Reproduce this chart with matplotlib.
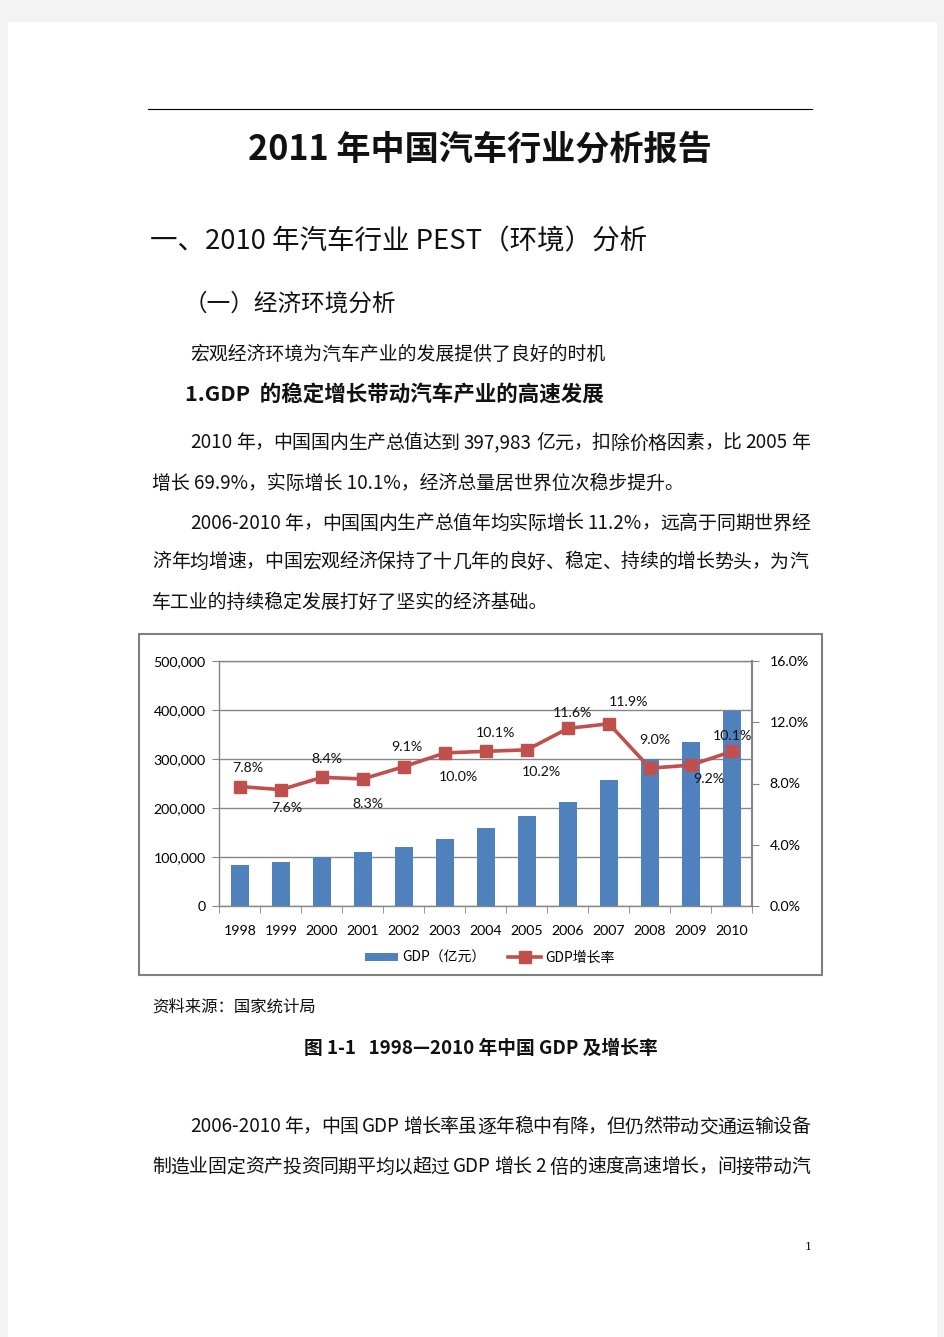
import numpy as np
import matplotlib
matplotlib.use('Agg')
import matplotlib.pyplot as plt
from matplotlib.patches import Rectangle, Patch
from matplotlib.lines import Line2D
from matplotlib.ticker import FuncFormatter
from matplotlib.textpath import TextToPath
from matplotlib.font_manager import FontProperties

plt.rcParams['font.family'] = ['Noto Sans CJK SC', 'DejaVu Sans']

# 图 1-1 数据
years = ['1998', '1999', '2000', '2001', '2002', '2003', '2004',
         '2005', '2006', '2007', '2008', '2009', '2010']
gdp = [84402, 89677, 99215, 109655, 120333, 135823, 159878,
       183217, 211924, 257306, 300670, 335353, 397983]   # 亿元
growth = [7.8, 7.6, 8.4, 8.3, 9.1, 10.0, 10.1, 10.2, 11.6, 11.9, 9.0, 9.2, 10.1]
# 数据标签的手工偏移 (像素, y 向上)
label_offsets = [(8, 19), (6, -18), (5, 18), (5, -25), (3, 20), (13, -24),
                 (9, 18), (14, -22), (4, 15), (20, 22), (5, 28), (18, -14),
                 (0, 15)]

W, H = 945, 1337
fig = plt.figure(figsize=(W / 100, H / 100), dpi=100)
fig.patch.set_facecolor('#f3f3f3')
fig.add_artist(Rectangle((8 / W, 0), (937 - 8) / W, 1 - 22 / H,
                         transform=fig.transFigure, facecolor='white',
                         edgecolor='none', zorder=0))


def fx(x):
    return x / W


def fy(y):
    # 文字 va=center 时整体偏高约 2px, 这里统一补回
    return 1 - (y + 2) / H


ttp = TextToPath()


def tw(s, prop):
    # 文字宽度(像素), 用两边竖线夹住以便把空格也算进去
    w1 = ttp.get_text_width_height_descent('|' + s + '|', prop, ismath=False)[0]
    w0 = ttp.get_text_width_height_descent('||', prop, ismath=False)[0]
    return (w1 - w0) * 100 / 72


def tokens(s):
    out, buf = [], ''
    for ch in s:
        if ch.isascii() and ch != ' ':
            buf += ch
        else:
            if buf:
                out.append(buf)
                buf = ''
            out.append(ch)
    if buf:
        out.append(buf)
    return out


def text(x, y, s, size=13.6, weight='normal', ha='left', family=None):
    kw = {}
    if family:
        kw['family'] = family
    fig.text(fx(x), fy(y), s, fontsize=size, fontweight=weight, ha=ha,
             va='center', color='#111111', **kw)


def justify(x0, x1, y, s, size=13.6, weight='normal'):
    prop = FontProperties(family='Noto Sans CJK SC', size=size, weight=weight)
    toks = tokens(s)
    widths = [tw(t, prop) for t in toks]
    gap = ((x1 - x0) - sum(widths)) / (len(toks) - 1)
    x = x0
    for t, w in zip(toks, widths):
        if t != ' ':
            fig.text(fx(x), fy(y), t, fontsize=size, fontweight=weight,
                     ha='left', va='center', color='#111111')
        x += w + gap


# 页眉线
fig.add_artist(Line2D([148 / W, 812 / W], [1 - 109 / H, 1 - 109 / H],
                      color='black', lw=0.8))

text(480, 147, '2011 年中国汽车行业分析报告', size=24.6, weight='bold', ha='center')
text(150, 240, '一、2010 年汽车行业 PEST（环境）分析', size=19.8)
text(184, 302, '（一）经济环境分析', size=17)
text(190, 352, '宏观经济环境为汽车产业的发展提供了良好的时机')
text(185, 393, '1.GDP  的稳定增长带动汽车产业的高速发展', size=15.5, weight='bold')

justify(190, 810, 441, '2010 年，中国国内生产总值达到 397,983 亿元，扣除价格因素，比 2005 年')
text(152, 481, '增长 69.9%，实际增长 10.1%，经济总量居世界位次稳步提升。')
justify(190, 810, 521, '2006-2010 年，中国国内生产总值年均实际增长 11.2%，远高于同期世界经')
justify(152, 808, 560, '济年均增速，中国宏观经济保持了十几年的良好、稳定、持续的增长势头，为汽')
text(152, 600, '车工业的持续稳定发展打好了坚实的经济基础。')

text(152, 1005, '资料来源：国家统计局', size=11.8)
text(481, 1046, '图 1-1   1998—2010 年中国 GDP 及增长率', size=13.5,
     weight='bold', ha='center')
justify(190, 810, 1125, '2006-2010 年，中国 GDP 增长率虽逐年稳中有降，但仍然带动交通运输设备')
justify(152, 810, 1165, '制造业固定资产投资同期平均以超过 GDP 增长 2 倍的速度高速增长，间接带动汽')
text(805, 1245, '1', size=8, family='DejaVu Serif')

# 图表外框
fig.add_artist(Rectangle((139 / W, 1 - 975 / H), (822 - 139) / W, (975 - 634) / H,
                         transform=fig.transFigure, facecolor='white',
                         edgecolor='#7f7f7f', lw=1.5, zorder=1))

num_font = ['Lato', 'Noto Sans CJK SC']
grid_c = '#868686'
L, R, T, B = 219.5, 752.5, 661, 906
ax = fig.add_axes([L / W, 1 - B / H, (R - L) / W, (B - T) / H], zorder=2)
ax.set_facecolor('none')
x = np.arange(len(years))
ax.bar(x, gdp, width=0.42, color='#4F81BD', zorder=2)
ax.set_xlim(-0.5, len(years) - 0.5)
ax.set_ylim(0, 500000)
ax.set_yticks(range(0, 500001, 100000))
ax.yaxis.set_major_formatter(FuncFormatter(lambda v, p: f'{int(v):,}'))
ax.grid(axis='y', color=grid_c, lw=1.0)
ax.set_axisbelow(True)
ax.spines['right'].set_visible(False)
for s in ['left', 'bottom', 'top']:
    ax.spines[s].set_color(grid_c)
    ax.spines[s].set_linewidth(1.0)
ax.set_xticks(x)
ax.set_xticklabels(years)
ax.set_xticks(np.arange(-0.5, len(years)), minor=True)
ax.tick_params(axis='x', which='major', length=0, pad=14)
ax.tick_params(axis='x', which='minor', length=5, color=grid_c)
ax.tick_params(axis='y', length=5, color=grid_c, pad=5)
for lab in ax.get_xticklabels() + ax.get_yticklabels():
    lab.set_family(num_font)
    lab.set_fontsize(10.2)

ax2 = ax.twinx()
ax2.plot(x, growth, color='#C0504D', lw=2.6, marker='s', ms=8, zorder=3)
ax2.set_ylim(0, 16)
ax2.set_yticks([0, 4, 8, 12, 16])
ax2.yaxis.set_major_formatter(FuncFormatter(lambda v, p: f'{v:.1f}%'))
for s in ['left', 'bottom', 'top']:
    ax2.spines[s].set_visible(False)
ax2.spines['right'].set_color(grid_c)
ax2.spines['right'].set_linewidth(1.5)
ax2.tick_params(axis='y', length=5, color=grid_c, pad=7.5)
for lab in ax2.get_yticklabels():
    lab.set_family(num_font)
    lab.set_fontsize(10.2)

for i, v in enumerate(growth):
    dx, dy = label_offsets[i]
    ax2.annotate(f'{v:.1f}%', (i, v), xytext=(dx, dy),
                 textcoords='offset pixels', ha='center', va='center',
                 fontsize=10.2, family=num_font, color='#111111')

handles = [Patch(facecolor='#4F81BD', edgecolor='none'),
           Line2D([], [], color='#C0504D', lw=2.6, marker='s', ms=8)]
ax.legend(handles, ['GDP（亿元）', 'GDP增长率'], loc='center',
          bbox_to_anchor=(490 / W, 1 - 958 / H), bbox_transform=fig.transFigure,
          ncol=2, frameon=False, numpoints=1, handlelength=2.4,
          handleheight=0.55, handletextpad=0.3, columnspacing=1.6,
          prop=FontProperties(family='Noto Sans CJK SC', size=10))

fig.savefig('out.png', dpi=100, facecolor=fig.get_facecolor())
